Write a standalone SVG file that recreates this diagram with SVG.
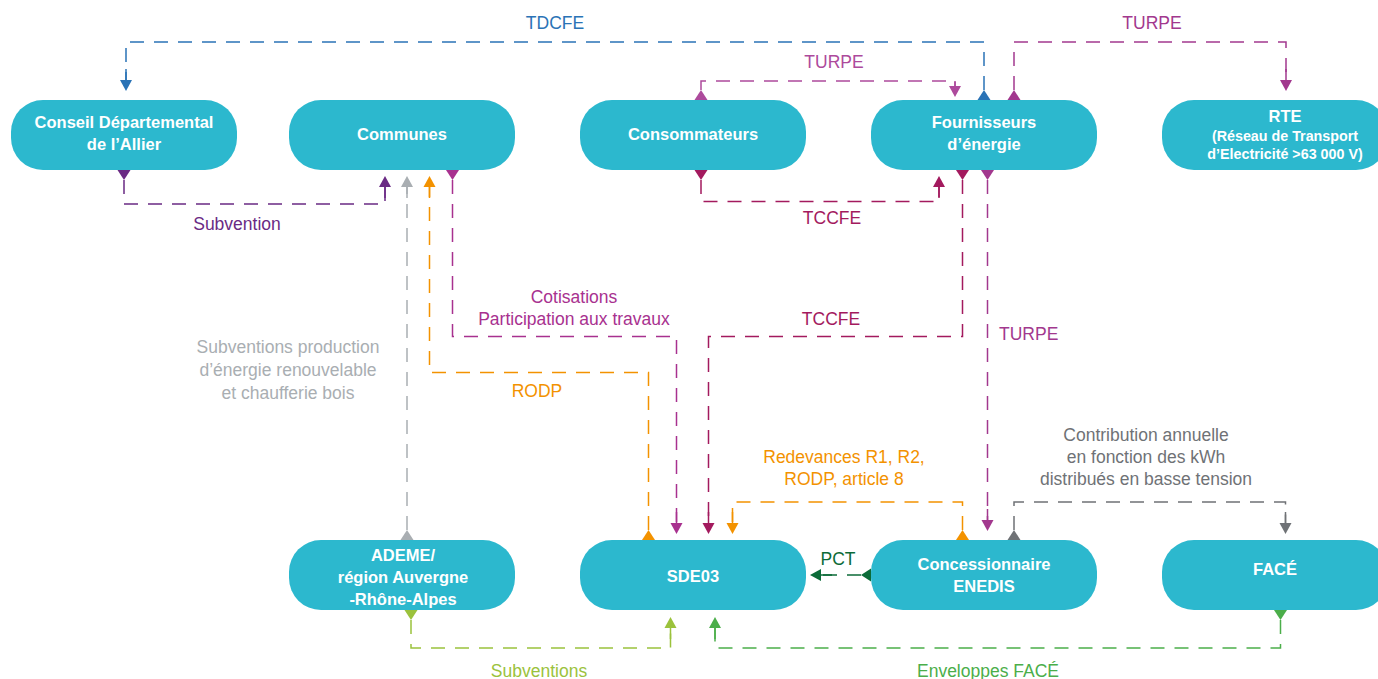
<svg xmlns="http://www.w3.org/2000/svg" xmlns:xlink="http://www.w3.org/1999/xlink" width="1378" height="679" viewBox="0 0 1378 679">
<style>
.node{fill:#2cb8ce}
.nt{font-family:"Liberation Sans",Arial,sans-serif;font-weight:bold;font-size:16.5px;fill:#ffffff;text-anchor:middle}
.nts{font-family:"Liberation Sans",Arial,sans-serif;font-weight:bold;font-size:14.3px;fill:#ffffff;text-anchor:middle}
.lb{font-family:"Liberation Sans",Arial,sans-serif;font-size:17.5px;text-anchor:middle}
.d{fill:none;stroke-width:1.5;stroke-dasharray:14 10}
.s{fill:none;stroke-width:1.5}
.blue{stroke:#2a73b6;fill:#2a73b6}
.pur{stroke:#6a2a84;fill:#6a2a84}
.mag{stroke:#a8318f;fill:#a8318f}
.cri{stroke:#a31a5e;fill:#a31a5e}
.tur{stroke:#a2388e;fill:#a2388e}
.tur2{stroke:#ad4a9c;fill:#ad4a9c}
.ora{stroke:#f39200;fill:#f39200}
.lgr{stroke:#a9aeb2;fill:#a9aeb2}
.dgr{stroke:#6f7276;fill:#6f7276}
.dgn{stroke:#0c6b38;fill:#0c6b38}
.lgn{stroke:#9bc23c;fill:#9bc23c}
.gn{stroke:#4bae4a;fill:#4bae4a}
path.d,path.s{fill:none}
text.lb{stroke:none}
use{stroke:none}
</style>
<defs>
<path id="ah" d="M-6,-11 L6,-11 L0,0 Z"/>
<path id="st" d="M-6.5,0 L6.5,0 L0,10 Z"/>
</defs>

<g id="connectors">
  <g id="c-tdcfe" class="blue">
    <use xlink:href="#st" href="#st" transform="translate(984,100) rotate(180)"/>
    <path class="d" d="M984,90 V42 H126 V80"/>
    <path class="s" d="M126,69 V80"/>
    <use xlink:href="#ah" href="#ah" transform="translate(126,91)"/>
    <text class="lb" x="555" y="29">TDCFE</text>
  </g>
  <g id="c-turpe-rte" class="tur">
    <use xlink:href="#st" href="#st" transform="translate(1014,100) rotate(180)"/>
    <path class="d" d="M1014,90 V42 H1286 V80"/>
    <path class="s" d="M1286,69 V80"/>
    <use xlink:href="#ah" href="#ah" transform="translate(1286,91)"/>
    <text class="lb" x="1152" y="29">TURPE</text>
  </g>
  <g id="c-turpe-cons" class="tur2">
    <use xlink:href="#st" href="#st" transform="translate(701,100) rotate(180)"/>
    <path class="d" d="M701,90 V81 H955 V86"/>
    <path class="s" d="M955,81 V86"/>
    <use xlink:href="#ah" href="#ah" transform="translate(955,97)"/>
    <text class="lb" x="834" y="68">TURPE</text>
  </g>
  <g id="c-tccfe-cons" class="cri">
    <use xlink:href="#st" href="#st" transform="translate(701,170)"/>
    <path class="d" d="M701,180 V201.5 H939 V187"/>
    <path class="s" d="M939,198 V187"/>
    <use xlink:href="#ah" href="#ah" transform="translate(939,176) rotate(180)"/>
    <text class="lb" x="832" y="224">TCCFE</text>
  </g>
  <g id="c-subvention" class="pur">
    <use xlink:href="#st" href="#st" transform="translate(124,170)"/>
    <path class="d" d="M124,180 V204 H385 V187"/>
    <path class="s" d="M385,198 V187"/>
    <use xlink:href="#ah" href="#ah" transform="translate(385,176) rotate(180)"/>
    <text class="lb" x="237" y="230">Subvention</text>
  </g>
  <g id="c-ademe-communes" class="lgr">
    <use xlink:href="#st" href="#st" transform="translate(407,540) rotate(180)"/>
    <path class="d" d="M407,530 V187"/>
    <path class="s" d="M407,198 V187"/>
    <use xlink:href="#ah" href="#ah" transform="translate(407,176) rotate(180)"/>
    <text class="lb" x="288" y="353">Subventions production</text>
    <text class="lb" x="288" y="376">d’énergie renouvelable</text>
    <text class="lb" x="288" y="399">et chaufferie bois</text>
  </g>
  <g id="c-rodp" class="ora">
    <use xlink:href="#st" href="#st" transform="translate(648.5,540) rotate(180)"/>
    <path class="d" d="M648.5,530 V372.5 H429.5 V187"/>
    <path class="s" d="M429.5,198 V187"/>
    <use xlink:href="#ah" href="#ah" transform="translate(429.5,176) rotate(180)"/>
    <text class="lb" x="537" y="397">RODP</text>
  </g>
  <g id="c-cotisations" class="mag">
    <use xlink:href="#st" href="#st" transform="translate(452.5,170)"/>
    <path class="d" d="M452.5,180 V336.5 H676.5 V523"/>
    <path class="s" d="M676.5,512 V523"/>
    <use xlink:href="#ah" href="#ah" transform="translate(676.5,534)"/>
    <text class="lb" x="574" y="303">Cotisations</text>
    <text class="lb" x="574" y="325">Participation aux travaux</text>
  </g>
  <g id="c-tccfe-sde" class="cri">
    <use xlink:href="#st" href="#st" transform="translate(962.5,170)"/>
    <path class="d" d="M962.5,180 V336.5 H708.5 V523"/>
    <path class="s" d="M708.5,512 V523"/>
    <use xlink:href="#ah" href="#ah" transform="translate(708.5,534)"/>
    <text class="lb" x="831" y="325">TCCFE</text>
  </g>
  <g id="c-turpe-enedis" class="tur">
    <use xlink:href="#st" href="#st" transform="translate(987.5,170)"/>
    <path class="d" d="M987.5,180 V520"/>
    <path class="s" d="M987.5,509 V520"/>
    <use xlink:href="#ah" href="#ah" transform="translate(987.5,531)"/>
    <text class="lb" x="999" y="340" style="text-anchor:start">TURPE</text>
  </g>
  <g id="c-redevances" class="ora">
    <use xlink:href="#st" href="#st" transform="translate(962.5,540) rotate(180)"/>
    <path class="d" d="M962.5,530 V502 H732.5 V523"/>
    <path class="s" d="M732.5,512 V523"/>
    <use xlink:href="#ah" href="#ah" transform="translate(732.5,534)"/>
    <text class="lb" x="844" y="463">Redevances R1, R2,</text>
    <text class="lb" x="844" y="485">RODP, article 8</text>
  </g>
  <g id="c-contribution" class="dgr">
    <use xlink:href="#st" href="#st" transform="translate(1014,540) rotate(180)"/>
    <path class="d" d="M1014,530 V502 H1285.5 V523"/>
    <path class="s" d="M1285.5,512 V523"/>
    <use xlink:href="#ah" href="#ah" transform="translate(1285.5,534)"/>
    <text class="lb" x="1146" y="441">Contribution annuelle</text>
    <text class="lb" x="1146" y="463">en fonction des kWh</text>
    <text class="lb" x="1146" y="485">distribués en basse tension</text>
  </g>
  <g id="c-pct" class="dgn">
    <use xlink:href="#st" href="#st" transform="translate(871,575) rotate(90)"/>
    <path class="d" d="M861,575 H821"/>
    <path class="s" d="M832,575 H821"/>
    <use xlink:href="#ah" href="#ah" transform="translate(810,575) rotate(90)"/>
    <text class="lb" x="838" y="565">PCT</text>
  </g>
  <g id="c-subventions" class="lgn">
    <use xlink:href="#st" href="#st" transform="translate(411,610)"/>
    <path class="d" d="M411,620 V648 H670.5 V628"/>
    <path class="s" d="M670.5,639 V628"/>
    <use xlink:href="#ah" href="#ah" transform="translate(670.5,617) rotate(180)"/>
    <text class="lb" x="539" y="677">Subventions</text>
  </g>
  <g id="c-enveloppes" class="gn">
    <use xlink:href="#st" href="#st" transform="translate(1280.5,610)"/>
    <path class="d" d="M1280.5,620 V648 H715 V628"/>
    <path class="s" d="M715,639 V628"/>
    <use xlink:href="#ah" href="#ah" transform="translate(715,617) rotate(180)"/>
    <text class="lb" x="988" y="677">Enveloppes FACÉ</text>
  </g>
</g>

<g id="n-conseil">
  <rect class="node" x="11" y="100" width="226" height="70" rx="32"/>
  <text class="nt" x="124" y="128">Conseil Départemental</text>
  <text class="nt" x="124" y="150">de l’Allier</text>
</g>
<g id="n-communes">
  <rect class="node" x="289" y="100" width="226" height="70" rx="32"/>
  <text class="nt" x="402" y="140">Communes</text>
</g>
<g id="n-consommateurs">
  <rect class="node" x="580" y="100" width="226" height="70" rx="32"/>
  <text class="nt" x="693" y="140">Consommateurs</text>
</g>
<g id="n-fournisseurs">
  <rect class="node" x="871" y="100" width="226" height="70" rx="32"/>
  <text class="nt" x="984" y="128">Fournisseurs</text>
  <text class="nt" x="984" y="150">d’énergie</text>
</g>
<g id="n-rte">
  <rect class="node" x="1162" y="100" width="226" height="70" rx="32"/>
  <text class="nt" x="1285" y="122">RTE</text>
  <text class="nts" x="1285" y="141">(Réseau de Transport</text>
  <text class="nts" x="1285" y="159">d’Electricité &gt;63 000 V)</text>
</g>
<g id="n-ademe">
  <rect class="node" x="289" y="540" width="226" height="70" rx="32"/>
  <text class="nt" x="403" y="561">ADEME/</text>
  <text class="nt" x="403" y="583">région Auvergne</text>
  <text class="nt" x="403" y="605">-Rhône-Alpes</text>
</g>
<g id="n-sde03">
  <rect class="node" x="580" y="540" width="226" height="70" rx="32"/>
  <text class="nt" x="693" y="582">SDE03</text>
</g>
<g id="n-concessionnaire">
  <rect class="node" x="871" y="540" width="226" height="70" rx="32"/>
  <text class="nt" x="984" y="570">Concessionnaire</text>
  <text class="nt" x="984" y="592">ENEDIS</text>
</g>
<g id="n-face">
  <rect class="node" x="1162" y="540" width="226" height="70" rx="32"/>
  <text class="nt" x="1275" y="575">FACÉ</text>
</g>
</svg>
